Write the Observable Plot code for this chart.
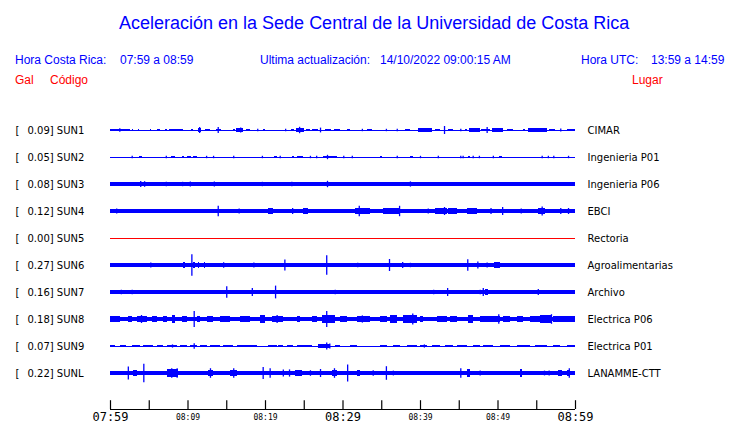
<!DOCTYPE html>
<html><head><meta charset="utf-8">
<script src="https://cdn.jsdelivr.net/npm/d3@7"></script>
<script src="https://cdn.jsdelivr.net/npm/@observablehq/plot@0.6"></script>
<style>
body{margin:0;background:#fff;}
#wrap{position:relative;width:740px;height:423px;overflow:hidden;font-family:"Liberation Sans",Arial,sans-serif;}
.h{position:absolute;white-space:pre;line-height:1;}
.b{color:#0000ff;font-size:12px;}
.r{color:#ff0000;font-size:12px;}
#chart{position:absolute;left:0;top:95px;}
#chart svg{overflow:visible;}
</style></head><body>
<div id="wrap">
  <div class="h" style="left:119px;top:14px;font-size:18px;color:#0000ff">Aceleración en la Sede Central de la Universidad de Costa Rica</div>
  <div class="h b" style="left:15px;top:54px">Hora Costa Rica:</div>
  <div class="h b" style="left:120px;top:54px">07:59 a 08:59</div>
  <div class="h b" style="left:260px;top:54px">Ultima actualización:</div>
  <div class="h b" style="left:380px;top:54px">14/10/2022 09:00:15 AM</div>
  <div class="h b" style="left:581px;top:54px">Hora UTC:</div>
  <div class="h b" style="left:651px;top:54px">13:59 a 14:59</div>
  <div class="h r" style="left:15px;top:74px">Gal</div>
  <div class="h r" style="left:50px;top:74px">Código</div>
  <div class="h r" style="left:632px;top:74px">Lugar</div>
  <div id="chart"></div>
</div>
<script>
// ---- data ----
const stations = ["SUN1","SUN2","SUN3","SUN4","SUN5","SUN6","SUN7","SUN8","SUN9","SUNL"];
const peakGal = [0.09,0.05,0.08,0.12,0.00,0.27,0.16,0.18,0.07,0.22];
const places = ["CIMAR","Ingenieria P01","Ingenieria P06","EBCI","Rectoria","Agroalimentarias","Archivo","Electrica P06","Electrica P01","LANAMME-CTT"];
const traceColors = ["#0000ff","#0000ff","#0000ff","#0000ff","#ff0000","#0000ff","#0000ff","#0000ff","#0000ff","#0000ff"];
// background noise half-amplitude (gal)
const noiseFloor = [0,0,0.042,0.04,0,0.042,0.04,0.06,0.01,0.042];
// bursts: [start minute after 07:59, end minute, half-amplitude gal]
const burstsSUN1 = [[0,2.6,0.035],[2.8,3.0,0.03],[3.6,3.8,0.03],[5.1,5.3,0.03],[6.0,6.4,0.035],[7.1,7.4,0.03],[7.6,9.4,0.035],[10.5,10.7,0.03],[11.3,11.7,0.04],[12.2,12.9,0.035],[13.7,14.3,0.035],[15.9,16.1,0.03],[16.2,17.2,0.045],[17.5,18.0,0.035],[19.8,20.0,0.03],[23.4,23.7,0.03],[24.0,25.0,0.04],[25.3,25.8,0.035],[26.1,26.9,0.035],[27.7,28.5,0.035],[28.9,29.7,0.035],[30.6,31.0,0.03],[33.2,33.8,0.035],[38.1,38.7,0.035],[39.7,41.5,0.04],[41.9,42.6,0.035],[43.6,44.3,0.035],[45.8,46.1,0.03],[46.3,47.7,0.04],[47.9,49.0,0.035],[49.3,50.7,0.04],[51.2,52.0,0.035],[53.3,53.6,0.03],[53.9,56.4,0.04],[56.6,57.4,0.035],[59.0,60,0.035]];
const burstsSUN2 = [[3.7,4.1,0.035],[7.9,8.4,0.03],[9.3,9.5,0.03],[9.9,10.5,0.03],[10.7,11.2,0.03],[21.2,21.5,0.03],[23.5,23.7,0.03],[24.1,24.9,0.03],[27.5,29.3,0.035],[34.8,35.1,0.03],[38.7,39.1,0.03],[46.2,46.5,0.03],[50.2,50.6,0.035]];
const burstsSUN3 = [[3.7,4.8,0.06],[6.1,6.5,0.055],[7.9,8.3,0.055],[10.1,10.5,0.06],[21.0,21.5,0.055],[24.1,24.9,0.055],[27.4,28.4,0.06],[28.8,29.4,0.055],[30.1,30.6,0.055],[34.8,35.1,0.055],[39.9,40.3,0.055],[50.1,50.7,0.055],[55.5,56.5,0.055]];
const burstsSUN4 = [[0,1.3,0.055],[3.4,3.7,0.05],[4.9,6.1,0.05],[6.7,8.1,0.055],[8.6,9.4,0.055],[9.9,11.6,0.055],[12.0,12.6,0.05],[15.1,15.9,0.055],[16.4,17.8,0.055],[19.0,19.7,0.05],[20.4,21.0,0.065],[21.9,22.3,0.05],[22.8,23.9,0.06],[24.3,24.7,0.05],[24.9,25.5,0.065],[26.5,27.1,0.055],[31.6,33.6,0.065],[34.2,34.6,0.055],[35.2,37.4,0.075],[39.6,40.0,0.055],[41.9,43.5,0.065],[43.6,44.8,0.07],[46.1,47.4,0.065],[47.7,48.1,0.05],[49.0,49.4,0.05],[50.1,50.7,0.06],[51.9,52.4,0.05],[55.2,56.1,0.075],[56.7,57.2,0.05]];
const burstsSUN5 = [];
const burstsSUN6 = [[9.4,9.7,0.07],[10.7,11.0,0.075],[11.3,11.5,0.085],[11.6,11.8,0.06],[12.1,12.3,0.07],[13.3,13.8,0.055],[20.6,21.3,0.055],[35.2,36.1,0.055],[44.3,44.6,0.055],[46.8,47.8,0.06],[49.6,50.3,0.065]];
const burstsSUN7 = [[9.0,9.9,0.05],[11.2,12.0,0.055],[14.5,15.2,0.055],[19.4,19.7,0.05],[21.0,21.5,0.06],[24.3,24.8,0.055],[37.2,37.8,0.05],[40.3,40.9,0.05],[45.4,46.2,0.055],[48.4,48.8,0.065],[49.0,49.7,0.05]];
const burstsSUN8 = [[0,1.3,0.085],[2.3,2.8,0.075],[3.5,4.8,0.085],[5.4,6.1,0.075],[6.8,7.4,0.075],[8.0,8.4,0.095],[9.3,9.9,0.075],[11.2,11.6,0.08],[12.5,13.3,0.075],[14.2,15.5,0.08],[16.8,18.1,0.085],[19.4,20.0,0.095],[20.9,22.3,0.085],[24.1,24.5,0.08],[26.1,26.7,0.08],[27.4,29.0,0.09],[29.7,30.6,0.08],[31.9,33.5,0.075],[34.8,35.7,0.08],[36.1,37.0,0.095],[37.8,39.6,0.09],[40.0,40.4,0.08],[42.2,43.5,0.08],[43.9,44.8,0.08],[46.2,46.8,0.095],[47.7,50.3,0.085],[50.7,51.6,0.08],[52.5,53.3,0.08],[54.2,55.5,0.085],[55.5,57.0,0.095],[57.2,60,0.075]];
const burstsSUN9 = [[0,0.6,0.028],[1.3,2.1,0.028],[2.8,3.9,0.028],[4.3,5.6,0.028],[6.0,6.9,0.028],[7.3,8.6,0.028],[9.0,9.9,0.028],[10.3,11.2,0.03],[11.6,12.5,0.028],[12.9,14.2,0.028],[14.6,15.9,0.028],[16.4,18.1,0.028],[18.1,19.0,0.028],[20.4,21.5,0.028],[21.7,22.3,0.028],[22.8,23.6,0.028],[24.1,26.1,0.028],[26.8,28.4,0.04],[29.0,29.7,0.028],[31.0,31.9,0.028],[34.8,35.7,0.028],[36.5,37.4,0.028],[38.3,39.6,0.028],[40.0,40.9,0.028],[41.5,42.6,0.028],[43.2,44.3,0.028],[44.8,46.1,0.028],[46.8,47.7,0.028],[48.1,49.4,0.028],[50.3,51.6,0.028],[52.5,54.2,0.028],[54.8,56.4,0.028],[57.2,58.1,0.028],[59.0,60,0.028]];
const burstsSUNL = [[3.0,3.5,0.075],[7.4,8.8,0.09],[9.3,9.9,0.06],[12.6,13.3,0.07],[15.5,16.4,0.08],[21.3,23.2,0.06],[23.9,24.8,0.08],[28.6,29.3,0.08],[31.9,32.3,0.07],[46.1,46.5,0.09],[48.0,48.4,0.06],[49.0,50.1,0.06],[52.9,53.2,0.09],[57.8,58.3,0.08],[59.0,59.4,0.08]];
// spikes: [minute after 07:59, half-amplitude gal]
const spikesSUN1 = [[1.2,0.045],[11.5,0.075],[13.9,0.075],[16.8,0.06],[19.0,0.03],[22.6,0.03],[24.4,0.08],[27.1,0.06],[32.5,0.03],[35.6,0.03],[37.0,0.03],[43.1,0.1],[45.2,0.03],[48.6,0.075],[49.9,0.05],[58.1,0.04]];
const spikesSUN2 = [[2.8,0.03],[7.2,0.03],[12.4,0.03],[13.3,0.03],[15.9,0.03],[19.6,0.03],[21.9,0.03],[25.8,0.03],[26.6,0.03],[28.0,0.055],[30.1,0.03],[31.2,0.03],[37.0,0.03],[40.0,0.03],[42.3,0.03],[45.2,0.03],[45.5,0.03],[46.8,0.03],[47.6,0.03],[49.4,0.03],[55.7,0.03],[56.5,0.03],[57.2,0.03],[59.1,0.03]];
const spikesSUN3 = [[2.8,0.05],[3.9,0.075],[4.4,0.07],[7.2,0.055],[9.3,0.055],[10.3,0.065],[13.4,0.065],[19.0,0.05],[19.6,0.055],[23.4,0.055],[28.0,0.08],[37.4,0.05],[38.7,0.065],[42.2,0.05],[44.8,0.05],[45.5,0.05],[46.5,0.05],[47.6,0.05],[59.0,0.05]];
const spikesSUN4 = [[0.8,0.06],[13.9,0.13],[16.6,0.06],[23.5,0.075],[26.8,0.05],[29.3,0.05],[32.1,0.13],[35.6,0.075],[37.3,0.13],[41.0,0.065],[43.1,0.1],[47.0,0.075],[49.1,0.075],[50.6,0.1],[53.0,0.06],[55.7,0.11],[58.1,0.075],[59.1,0.075]];
const spikesSUN5 = [];
const spikesSUN6 = [[1.7,0.05],[3.0,0.05],[5.2,0.065],[8.0,0.05],[10.5,0.27],[14.6,0.07],[17.8,0.05],[18.5,0.065],[22.5,0.14],[25.8,0.05],[27.9,0.245],[29.6,0.05],[31.9,0.055],[34.2,0.05],[36.0,0.15],[37.7,0.075],[38.7,0.055],[41.7,0.05],[42.2,0.05],[46.1,0.145],[47.4,0.09],[48.6,0.06],[52.3,0.05],[55.1,0.05],[56.1,0.05],[56.7,0.05],[57.9,0.05],[59.3,0.05]];
const spikesSUN7 = [[1.4,0.055],[2.8,0.055],[5.8,0.05],[13.3,0.05],[15.0,0.145],[16.9,0.05],[17.8,0.05],[18.3,0.1],[21.3,0.16],[25.8,0.05],[29.0,0.055],[31.6,0.05],[33.5,0.05],[38.7,0.05],[41.7,0.055],[42.2,0.05],[43.5,0.1],[44.1,0.05],[47.7,0.055],[48.1,0.1],[51.1,0.05],[52.1,0.05],[55.2,0.075],[56.6,0.05],[57.7,0.05],[59.3,0.05]];
const spikesSUN8 = [[4.0,0.1],[10.8,0.2],[21.5,0.1],[27.9,0.2],[32.5,0.09],[36.3,0.1],[39.0,0.135],[46.5,0.1],[50.1,0.12],[56.9,0.12]];
const spikesSUN9 = [[8.0,0.04],[10.8,0.07],[27.9,0.085],[28.3,0.06],[40.5,0.04]];
const spikesSUNL = [[2.3,0.165],[4.3,0.23],[6.1,0.05],[7.9,0.12],[8.6,0.12],[10.6,0.05],[11.6,0.05],[12.9,0.12],[15.9,0.12],[17.7,0.05],[19.7,0.15],[20.6,0.12],[22.3,0.09],[23.1,0.09],[25.8,0.07],[27.1,0.1],[28.9,0.12],[30.6,0.21],[32.9,0.05],[33.9,0.07],[35.6,0.17],[36.5,0.06],[38.3,0.05],[40.0,0.05],[41.7,0.05],[43.5,0.05],[45.2,0.12],[47.7,0.06],[51.9,0.05],[53.0,0.1],[55.2,0.05],[56.0,0.06],[56.6,0.06],[59.2,0.12]];
const tickTimes = ["07:59","08:04","08:09","08:14","08:19","08:24","08:29","08:34","08:39","08:44","08:49","08:54","08:59"];
const majorLabels = ["07:59","08:29","08:59"];
const minorLabels = ["08:09","08:19","08:39","08:49"];

const bursts = [burstsSUN1,burstsSUN2,burstsSUN3,burstsSUN4,burstsSUN5,burstsSUN6,burstsSUN7,burstsSUN8,burstsSUN9,burstsSUNL];
const spikes = [spikesSUN1,spikesSUN2,spikesSUN3,spikesSUN4,spikesSUN5,spikesSUN6,spikesSUN7,spikesSUN8,spikesSUN9,spikesSUNL];

// ---- build ----
const rowGap = 0.675;          // gal between trace centres
const yTop = 0.875, yBottom = -6.975;
const start = new Date(Date.UTC(2022,9,14,7,59));
const end = new Date(Date.UTC(2022,9,14,8,59));
const toDate = m => new Date(start.getTime() + m*60000);
const hm = s => { const [h,m] = s.split(":").map(Number); return new Date(Date.UTC(2022,9,14,h,m)); };

const rows = stations.map((s,i)=>({s, i, c: -i*rowGap, peak: peakGal[i], place: places[i], color: traceColors[i], base: noiseFloor[i]}));
const burstData = rows.flatMap(r => bursts[r.i].map(([a,b,amp]) => ({c:r.c, t0:a, t1:b, a:amp, color:r.color})));
const spikeData = rows.flatMap(r => spikes[r.i].map(([t,amp]) => ({c:r.c, t, a:amp, color:r.color})));

const chart = Plot.plot({
  width: 740, height: 328,
  marginLeft: 110, marginRight: 165, marginTop: 0, marginBottom: 14,
  x: {type: "utc", domain: [start, end], axis: null},
  y: {domain: [yBottom, yTop], axis: null},
  color: {type: "identity"},
  style: {fontFamily: "DejaVu Sans", fontSize: "10px", background: "transparent", overflow: "visible"},
  marks: [
    Plot.rect(rows.filter(r => r.base > 0), {x1: () => start, x2: () => end, y1: r => r.c - r.base, y2: r => r.c + r.base, fill: "color", shapeRendering: "crispEdges"}),
    Plot.ruleY(rows, {y: "c", x1: () => start, x2: () => end, stroke: "color", strokeWidth: 1, shapeRendering: "crispEdges"}),
    Plot.rect(burstData, {x1: d => toDate(d.t0), x2: d => toDate(d.t1), y1: d => d.c - d.a, y2: d => d.c + d.a, fill: "color", shapeRendering: "crispEdges"}),
    Plot.ruleX(spikeData, {x: d => toDate(d.t), y1: d => d.c - d.a, y2: d => d.c + d.a, stroke: "color", strokeWidth: 1.3}),
    Plot.text(rows, {x: () => start, y: "c", text: () => "[", dx: -95, textAnchor: "start", fill: "black"}),
    Plot.text(rows, {x: () => start, y: "c", text: r => r.peak.toFixed(2) + "] " + r.s, dx: -83, textAnchor: "start", fill: "black"}),
    Plot.text(rows, {x: () => end, y: "c", text: "place", dx: 12, textAnchor: "start", fill: "black"}),
    Plot.ruleY([yBottom], {x1: () => start, x2: () => end, stroke: "black", strokeWidth: 1.2}),
    Plot.ruleX(tickTimes, {x: hm, y1: () => yBottom, y2: () => yBottom + 0.22, stroke: "black", strokeWidth: 1.2}),
    Plot.text(majorLabels, {x: hm, y: () => yBottom, text: d => d, lineAnchor: "bottom", dy: 11, fontFamily: "DejaVu Sans Mono", fontSize: 12, fill: "black"}),
    Plot.text(minorLabels, {x: hm, y: () => yBottom, text: d => d, lineAnchor: "bottom", dy: 10, fontFamily: "DejaVu Sans Mono", fontSize: 8, fill: "black"})
  ]
});
document.getElementById("chart").appendChild(chart);
</script>
</body></html>
